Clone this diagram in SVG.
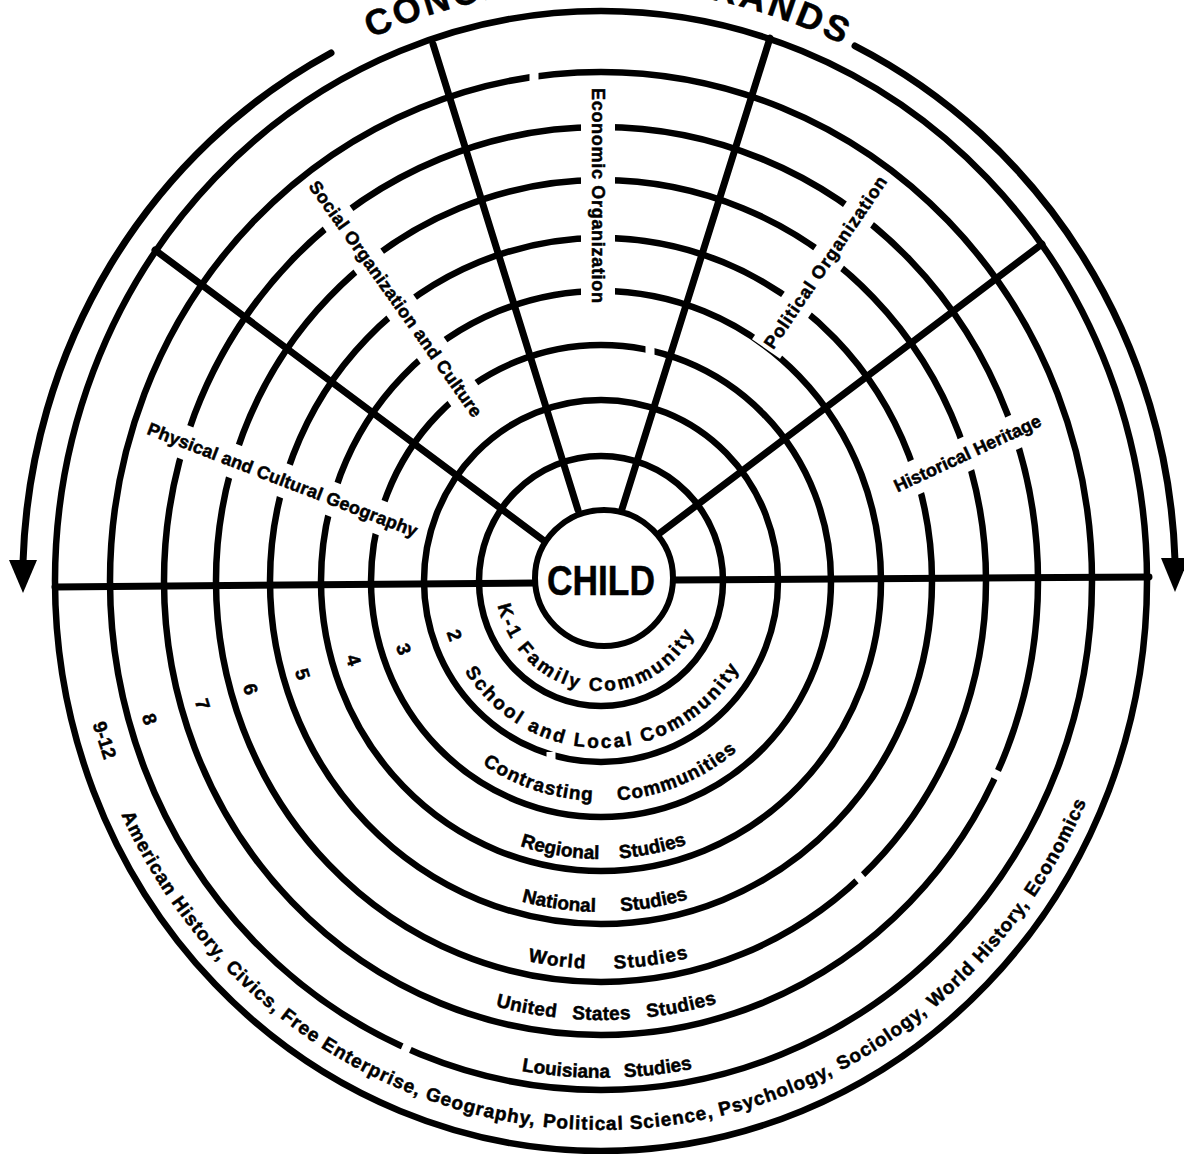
<svg xmlns="http://www.w3.org/2000/svg" width="1184" height="1154" viewBox="0 0 1184 1154">
<style>
.ring{fill:none;stroke:#000;stroke-width:6.5}
.gap{stroke:#fff;stroke-width:34;stroke-linecap:butt}
.nick{stroke:#fff;stroke-width:9}
.ray{stroke:#000;stroke-width:7;stroke-linecap:round}
.arc{fill:none;stroke:#000;stroke-width:7;stroke-linecap:round}
text{font-family:"Liberation Sans",Arial,sans-serif;font-weight:bold;fill:#000;stroke:#000;stroke-width:0.5}
.band{font-size:19px}
.sect{font-size:18px}
.subj{font-size:19px;letter-spacing:0.976px}
</style>
<defs>
<path id="b0" d="M495,581 A106,110 0 0 0 707,581"/>
<path id="b1" d="M439,581 A162,167 0 0 0 763,581"/>
<path id="b2" d="M387,581 A214,220 0 0 0 815,581"/>
<path id="b3" d="M333,581 A268,278 0 0 0 869,581"/>
<path id="b4" d="M283,581 A318,331 0 0 0 919,581"/>
<path id="b5" d="M229,581 A372,388 0 0 0 973,581"/>
<path id="b6" d="M177,581 A424,439 0 0 0 1025,581"/>
<path id="b7" d="M123,581 A478,497 0 0 0 1079,581"/>
<path id="b8" d="M71,581 A530,549 0 0 0 1131,581"/>
<path id="top" d="M32,581 A568,593 0 0 1 1168,581"/>
</defs>
<rect width="1184" height="1154" fill="#fff" stroke="none"/>
<g id="rings">
<ellipse class="ring" cx="601" cy="581" rx="122" ry="125"/>
<ellipse class="ring" cx="601" cy="581" rx="177" ry="181"/>
<ellipse class="ring" cx="601" cy="581" rx="230" ry="236"/>
<ellipse class="ring" cx="601" cy="581" rx="280" ry="290"/>
<ellipse class="ring" cx="601" cy="581" rx="331" ry="343"/>
<ellipse class="ring" cx="601" cy="581" rx="385" ry="401"/>
<ellipse class="ring" cx="601" cy="581" rx="437" ry="454"/>
<ellipse class="ring" cx="601" cy="581" rx="491" ry="509"/>
<ellipse class="ring" cx="601" cy="581" rx="546" ry="570"/>
</g>
<g id="gaps">
<line class="gap" x1="145" y1="427" x2="420" y2="533"/>
<line class="gap" x1="311" y1="181" x2="480" y2="417"/>
<line class="gap" x1="598" y1="85" x2="598" y2="306"/>
<line class="gap" x1="766" y1="349" x2="885" y2="176"/>
<line class="gap" x1="892" y1="488" x2="1043" y2="419"/>
<line class="nick" x1="534" y1="64" x2="534" y2="92"/>
<line class="nick" x1="650" y1="338" x2="650" y2="362"/>
<line class="nick" x1="551" y1="752" x2="551" y2="772"/>
<line class="nick" x1="409" y1="1042" x2="401" y2="1060"/>
<line class="nick" x1="853" y1="870" x2="867" y2="886"/>
<line class="nick" x1="987" y1="770" x2="1005" y2="779"/>
</g>
<g id="connectors">
<line class="ray" x1="55" y1="587" x2="537" y2="583"/>
<line class="ray" x1="673" y1="580" x2="1149" y2="577"/>
<line class="ray" x1="155" y1="250" x2="543" y2="540"/>
<line class="ray" x1="433" y1="44" x2="578" y2="510"/>
<line class="ray" x1="770" y1="38" x2="622" y2="509"/>
<line class="ray" x1="1042" y1="244" x2="660" y2="533"/>
<path class="arc" d="M331,53 A576,597 0 0 0 23,562"/>
<polygon points="9,560 37,560 23,593"/>
<path class="arc" d="M855,46 A576,597 0 0 1 1175,560"/>
<polygon points="1161,558 1189,558 1175,592"/>
</g>
<g id="child">
<ellipse cx="604" cy="578" rx="69" ry="68" fill="#fff" stroke="#000" stroke-width="6"/>
<text x="601" y="595" font-size="42" text-anchor="middle" textLength="108" lengthAdjust="spacingAndGlyphs">CHILD</text>
</g>
<g id="title">
<text font-size="36" text-anchor="middle"><textPath href="#top" startOffset="50.4%" textLength="487" lengthAdjust="spacing">CONCEPTUAL STRANDS</textPath></text>
</g>
<g id="strands">
<text class="sect" text-anchor="middle" transform="translate(282.5,480) rotate(21.1)" y="6" textLength="288" lengthAdjust="spacing">Physical and Cultural Geography</text>
<text class="sect" text-anchor="middle" transform="translate(395.5,299) rotate(54.6)" y="6" textLength="285" lengthAdjust="spacing">Social Organization and Culture</text>
<text class="sect" text-anchor="middle" transform="translate(598,195.5) rotate(90)" y="6" textLength="215" lengthAdjust="spacing">Economic Organization</text>
<text class="sect" text-anchor="middle" transform="translate(825.5,262.5) rotate(-55.8)" y="6" textLength="204" lengthAdjust="spacing">Political Organization</text>
<text class="sect" text-anchor="middle" transform="translate(967.5,453.5) rotate(-24.8)" y="6" textLength="160" lengthAdjust="spacing">Historical Heritage</text>
</g>
<g id="grade-numbers">
<text class="band" text-anchor="middle" transform="translate(455,635) rotate(70)" y="7">2</text>
<text class="band" text-anchor="middle" transform="translate(404,649) rotate(71)" y="7">3</text>
<text class="band" text-anchor="middle" transform="translate(354,660) rotate(72.5)" y="7">4</text>
<text class="band" text-anchor="middle" transform="translate(303,674) rotate(73)" y="7">5</text>
<text class="band" text-anchor="middle" transform="translate(251,689) rotate(73)" y="7">6</text>
<text class="band" text-anchor="middle" transform="translate(203,704) rotate(73)" y="7">7</text>
<text class="band" text-anchor="middle" transform="translate(150,719) rotate(73)" y="7">8</text>
<text class="band" text-anchor="middle" transform="translate(105,740) rotate(72.4)" y="7">9-12</text>
</g>
<g id="grades">
<text class="band" text-anchor="middle"><textPath href="#b0" startOffset="45.5%" textLength="259" lengthAdjust="spacing">K-1 Family Community</textPath></text>
<text class="band" text-anchor="middle"><textPath href="#b1" startOffset="50.3%" textLength="330" lengthAdjust="spacing">School and Local Community</textPath></text>
<text class="band" text-anchor="middle" word-spacing="18"><textPath href="#b2" startOffset="51.6%" textLength="274" lengthAdjust="spacing">Contrasting Communities</textPath></text>
<text class="band" text-anchor="middle" word-spacing="15"><textPath href="#b3" startOffset="50.3%" textLength="170" lengthAdjust="spacing">Regional Studies</textPath></text>
<text class="band" text-anchor="middle" word-spacing="20"><textPath href="#b4" startOffset="50.4%" textLength="169" lengthAdjust="spacing">National Studies</textPath></text>
<text class="band" text-anchor="middle" word-spacing="22"><textPath href="#b5" startOffset="50.6%" textLength="162" lengthAdjust="spacing">World Studies</textPath></text>
<text class="band" text-anchor="middle" word-spacing="10"><textPath href="#b6" startOffset="50.4%" textLength="224" lengthAdjust="spacing">United States Studies</textPath></text>
<text class="band" text-anchor="middle" word-spacing="9"><textPath href="#b7" startOffset="50.4%" textLength="172" lengthAdjust="spacing">Louisiana Studies</textPath></text>
</g>
<g id="subjects">
<text class="subj"><textPath href="#b8" startOffset="240.8">American History,</textPath></text>
<text class="subj"><textPath href="#b8" startOffset="426.3">Civics,</textPath></text>
<text class="subj"><textPath href="#b8" startOffset="500.6">Free Enterprise,</textPath></text>
<text class="subj"><textPath href="#b8" startOffset="667.2">Geography,</textPath></text>
<text class="subj"><textPath href="#b8" startOffset="788.7">Political Science,</textPath></text>
<text class="subj"><textPath href="#b8" startOffset="967.8">Psychology,</textPath></text>
<text class="subj"><textPath href="#b8" startOffset="1096.8">Sociology,</textPath></text>
<text class="subj"><textPath href="#b8" startOffset="1208.8">World History,</textPath></text>
<text class="subj"><textPath href="#b8" startOffset="1358.6">Economics</textPath></text>
</g>
</svg>
